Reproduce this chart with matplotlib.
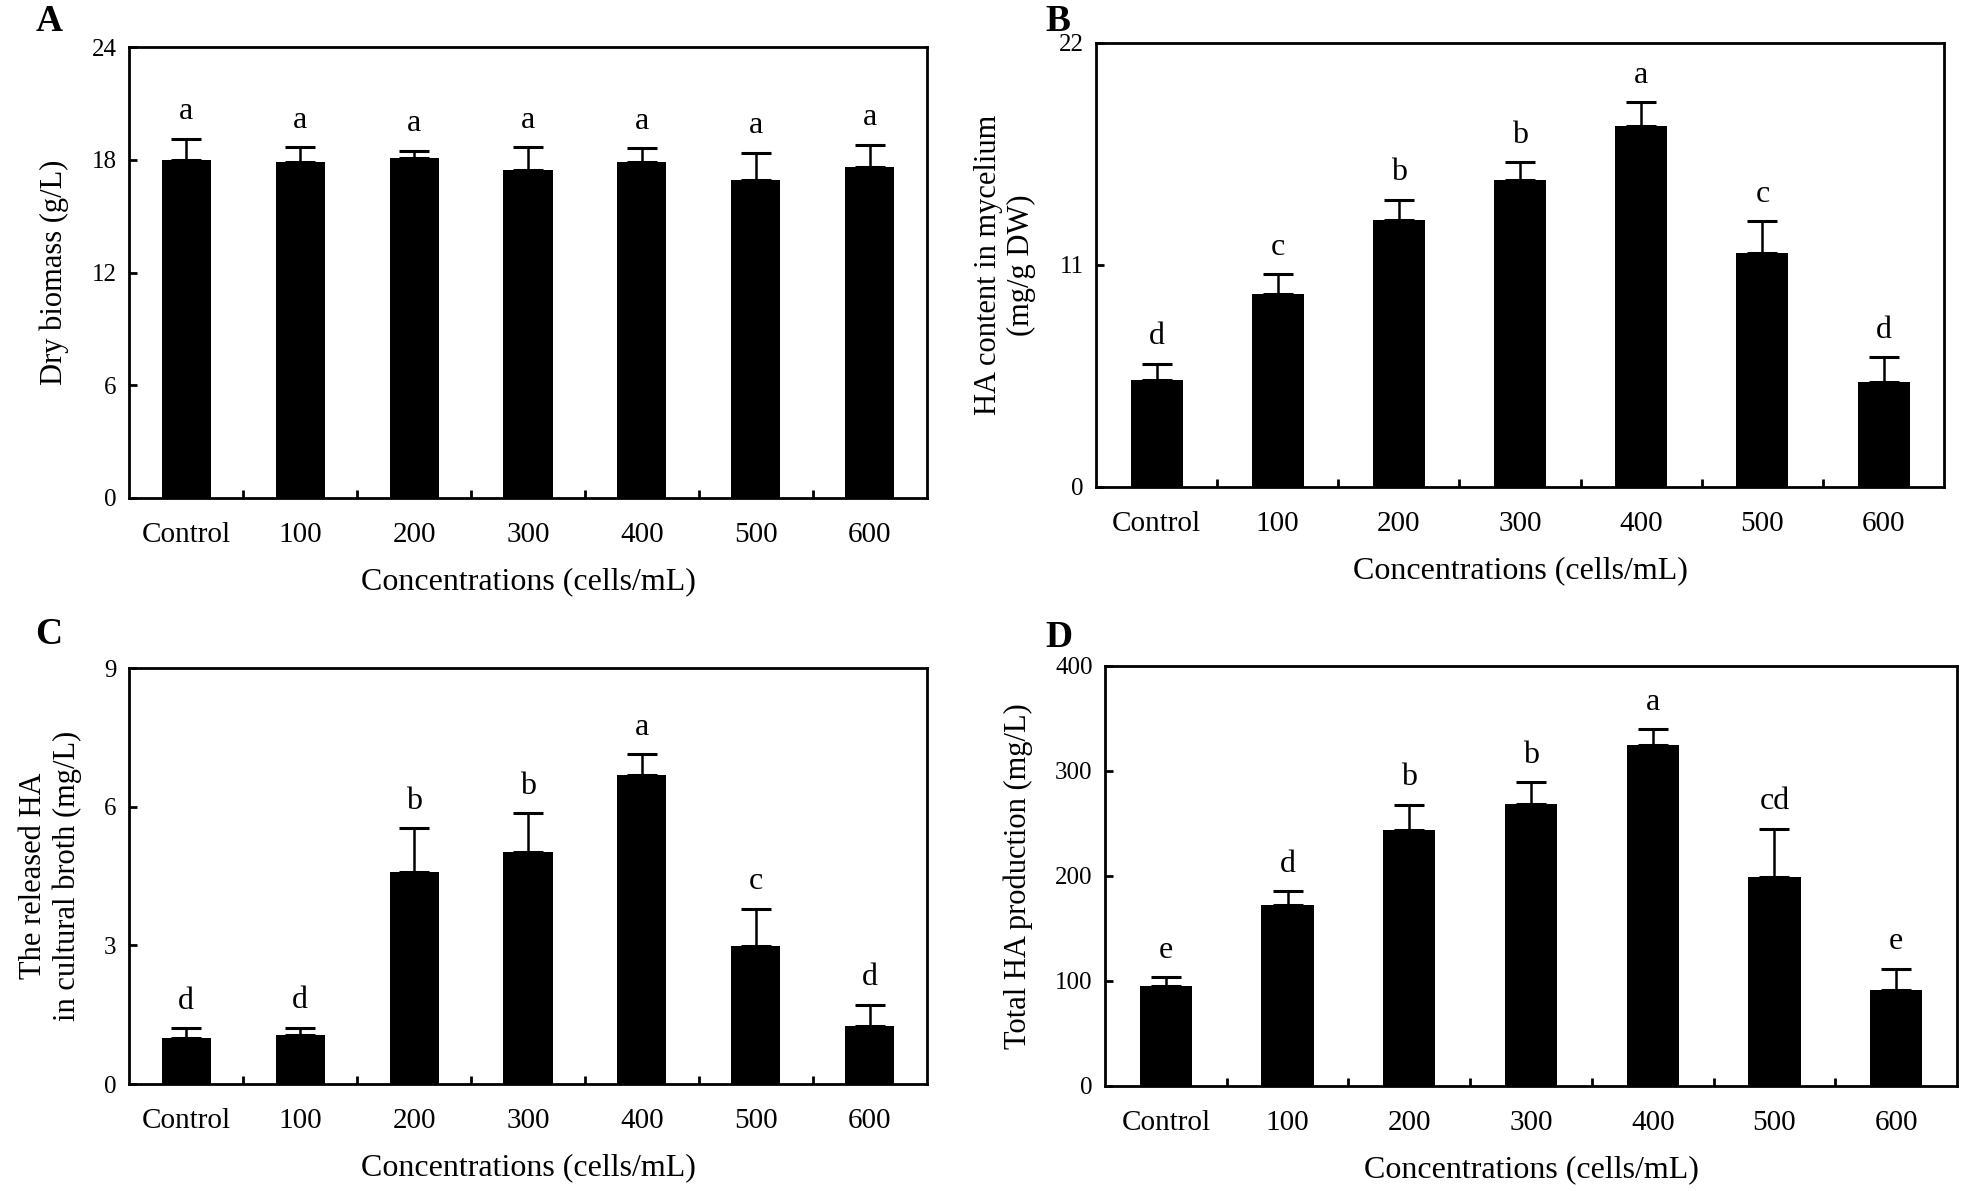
import numpy as np
import matplotlib
matplotlib.use("Agg")
import matplotlib.pyplot as plt

plt.rcParams["font.family"] = ["Liberation Serif", "DejaVu Serif"]

conc = ["Control", "100", "200", "300", "400", "500", "600"]

biomass = [18.0, 17.9, 18.1, 17.45, 17.9, 16.9, 17.6]
biomass_err = [1.13, 0.76, 0.39, 1.21, 0.7, 1.47, 1.19]
biomass_sig = ["a", "a", "a", "a", "a", "a", "a"]

ha_myc = [5.28, 9.56, 13.24, 15.19, 17.88, 11.59, 5.21]
ha_myc_err = [0.82, 0.99, 1.0, 0.91, 1.19, 1.57, 1.21]
ha_myc_sig = ["d", "c", "b", "b", "a", "c", "d"]

ha_rel = [0.99, 1.06, 4.59, 5.02, 6.68, 2.99, 1.25]
ha_rel_err = [0.22, 0.16, 0.94, 0.84, 0.46, 0.8, 0.47]
ha_rel_sig = ["d", "d", "b", "b", "a", "c", "d"]

ha_total = [94.8, 171.9, 243.6, 268.8, 325.0, 199.3, 91.5]
ha_total_err = [8.6, 13.3, 24.1, 20.6, 14.5, 45.7, 19.9]
ha_total_sig = ["e", "d", "b", "b", "a", "cd", "e"]

fig = plt.figure(figsize=(19.61, 11.91), dpi=100)


def panel(rect, vals, err, sig, ylim, yticks, ylabel, tag, tagpos):
    ax = fig.add_axes(rect)
    x = np.arange(len(conc))
    ax.bar(x, vals, 0.43, color="black")
    ax.errorbar(x, vals, yerr=[np.zeros(len(err)), err], fmt="none",
                ecolor="black", elinewidth=1.8, capsize=11, capthick=2.2)
    for i in x:
        ax.annotate(sig[i], (i, vals[i] + err[i]), textcoords="offset points",
                    xytext=(0, 9), ha="center", va="bottom", fontsize=23)
    ax.set_xlim(-0.5, len(conc) - 0.5)
    ax.set_ylim(*ylim)
    ax.set_yticks(yticks)
    ax.set_xticks(x, conc)
    ax.set_xticks(x[:-1] + 0.5, minor=True)
    ax.tick_params(axis="x", which="major", length=0, pad=17, labelsize=21)
    ax.tick_params(axis="x", which="minor", direction="in", length=6, width=2)
    ax.tick_params(axis="y", direction="in", length=6, width=2, pad=9,
                   labelsize=18)
    for s in ax.spines.values():
        s.set_linewidth(2)
    ax.set_xlabel("Concentrations (cells/mL)", fontsize=23, labelpad=14)
    ax.set_ylabel(ylabel, fontsize=22, labelpad=16)
    fig.text(tagpos[0], tagpos[1], tag, fontsize=27, fontweight="bold",
             ha="left", va="center")
    return ax


panel([0.0658, 0.5819, 0.4069, 0.3786], biomass, biomass_err, biomass_sig,
      (0, 24), [0, 6, 12, 18, 24], "Dry biomass (g/L)", "A", (0.018, 0.982))
panel([0.5589, 0.5911, 0.4325, 0.3728], ha_myc, ha_myc_err, ha_myc_sig,
      (0, 22), [0, 11, 22], "HA content in mycelium\n(mg/g DW)", "B",
      (0.533, 0.982))
panel([0.0658, 0.0898, 0.4069, 0.3493], ha_rel, ha_rel_err, ha_rel_sig,
      (0, 9), [0, 3, 6, 9], "The released HA\nin cultural broth (mg/L)", "C",
      (0.018, 0.467))
panel([0.5635, 0.0882, 0.4345, 0.3527], ha_total, ha_total_err, ha_total_sig,
      (0, 400), [0, 100, 200, 300, 400], "Total HA production (mg/L)", "D",
      (0.533, 0.465))

fig.savefig("out.png", dpi=100)
